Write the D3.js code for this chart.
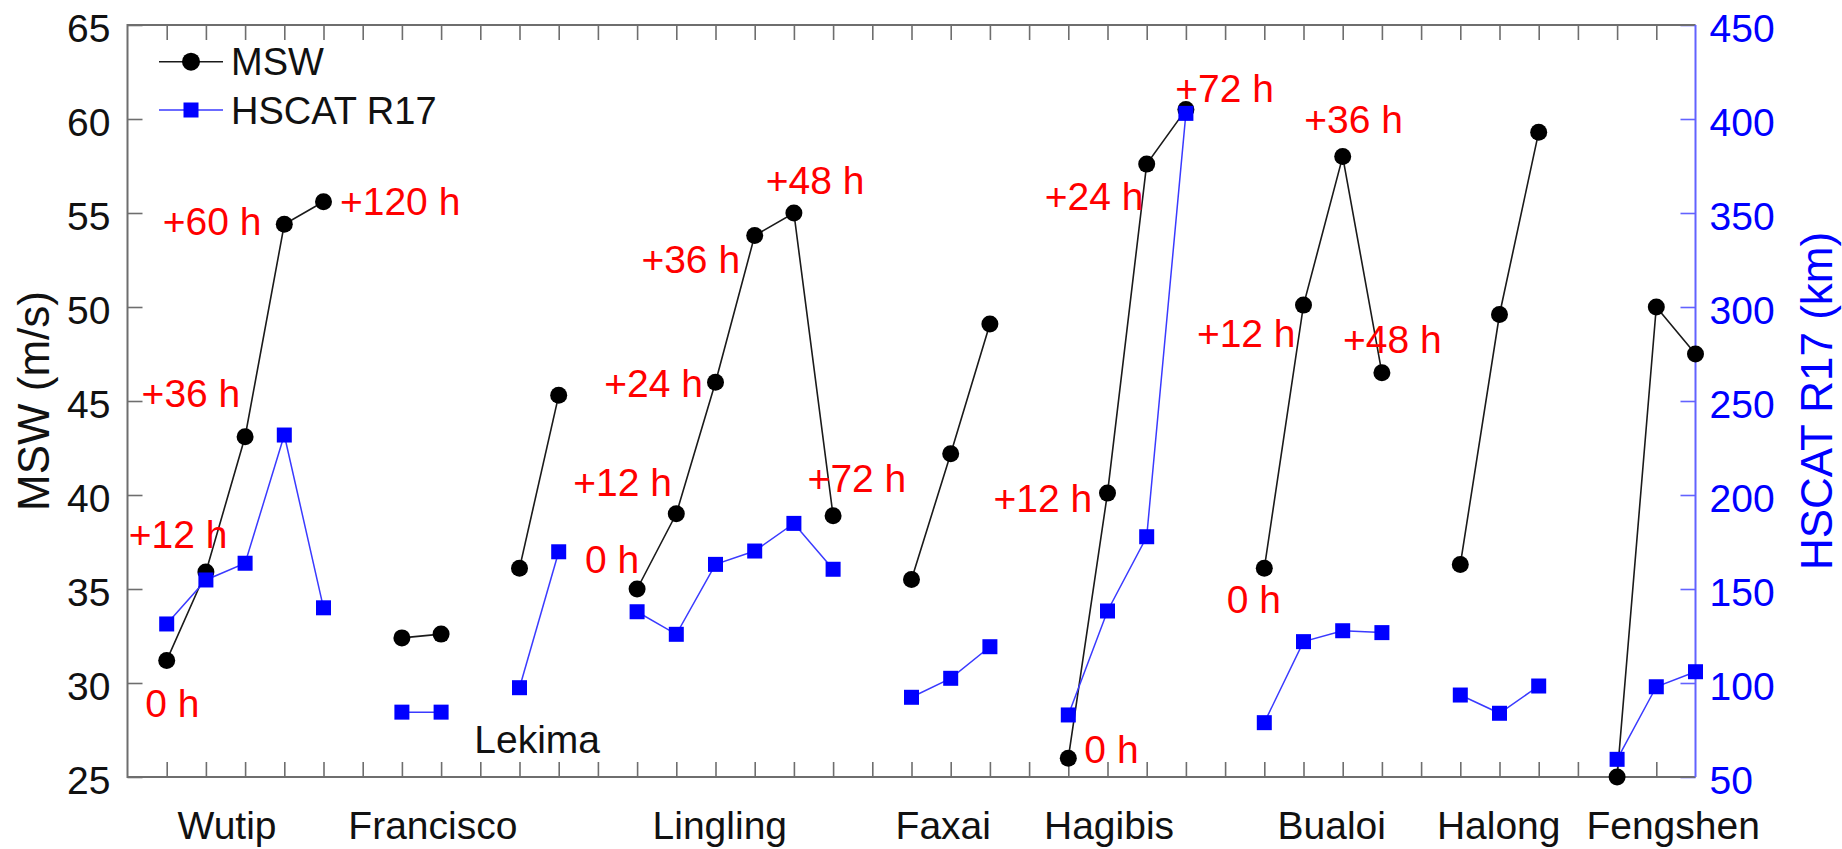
<!DOCTYPE html>
<html>
<head>
<meta charset="utf-8">
<script src="https://cdn.jsdelivr.net/npm/d3@7/dist/d3.min.js"></script>
<style>
  html, body { margin: 0; padding: 0; background: #fff; }
  svg { display: block; font-family: "Liberation Sans", Arial, Helvetica, sans-serif; }
</style>
</head>
<body>
<svg id="chart" width="1842" height="849"></svg>
<script>
// Typhoon names and the x slot of each storm's first (0 h) sample
const storms     = ["Wutip", "Francisco", "Lekima", "Lingling", "Faxai", "Hagibis", "Bualoi", "Halong", "Fengshen"];
const stormStart = [1, 7, 10, 13, 20, 24, 29, 34, 38];

// Maximum sustained wind (m/s), one list per storm, 12-hourly samples
const msw = [
  [31.2, 35.9, 43.1, 54.4, 55.6],
  [32.4, 32.6],
  [36.1, 45.3],
  [35.0, 39.0, 46.0, 53.8, 55.0, 38.9],
  [35.5, 42.2, 49.1],
  [26.0, 40.1, 57.6, 60.5],
  [36.1, 50.1, 58.0, 46.5],
  [36.3, 49.6, 59.3],
  [25.0, 50.0, 47.5]
];

// HSCAT radius of 17 m/s wind (km), same samples
const r17 = [
  [131.4, 154.8, 163.7, 231.9, 140.0],
  [84.5, 84.5],
  [97.5, 169.8],
  [137.9, 125.9, 163.1, 170.2, 184.9, 160.5],
  [92.4, 102.5, 119.3],
  [83.0, 138.3, 177.8, 403.0],
  [78.9, 122.0, 127.8, 126.8],
  [93.6, 83.9, 98.4],
  [59.4, 98.0, 106.0]
];

// Tick labels
const mswTicks = [25, 30, 35, 40, 45, 50, 55, 60, 65];
const r17Ticks = [50, 100, 150, 200, 250, 300, 350, 400, 450];

// Where each storm name sits along the x axis (slot units)
const nameSlot = [2.54, 7.79, 10.45, 15.11, 20.81, 25.04, 30.72, 34.98, 39.43];

// Forecast-lead annotations: text, x slot, MSW value at the text baseline
const notes = [
  ["0 h", 0.45, 28.21], ["+12 h", 0.03, 37.20], ["+36 h", 0.36, 44.66],
  ["+60 h", 0.90, 53.83], ["+120 h", 5.42, 54.89],
  ["0 h", 11.67, 35.84], ["+12 h", 11.37, 39.95], ["+24 h", 12.16, 45.23],
  ["+36 h", 13.11, 51.79], ["+48 h", 16.28, 56.01], ["+72 h", 17.35, 40.18],
  ["0 h", 24.41, 25.76], ["+12 h", 22.09, 39.11], ["+24 h", 23.40, 55.16],
  ["+72 h", 26.73, 60.92],
  ["0 h", 28.04, 33.74], ["+12 h", 27.28, 47.89], ["+36 h", 30.02, 59.27],
  ["+48 h", 31.01, 47.57]
];

const svg = d3.select("#chart");
const L = 127.5, R = 1695.5, T = 25, B = 777;

const x  = d3.scaleLinear().domain([0, 40]).range([L, R]);
const yL = d3.scaleLinear().domain([25, 65]).range([B, T]);
const yR = d3.scaleLinear().domain([50, 450]).range([B, T]);

const grey = "#6e6e6e", blueAxis = "#6262ff";

// x ticks, bottom and top, pointing into the plot
const slots = d3.range(1, 40);
const gxB = svg.append("g").attr("transform", `translate(0,${B})`)
  .call(d3.axisBottom(x).tickValues(slots).tickSize(-15).tickFormat(""));
const gxT = svg.append("g").attr("transform", `translate(0,${T})`)
  .call(d3.axisTop(x).tickValues(slots).tickSize(-15).tickFormat(""));
[gxB, gxT].forEach(g => {
  g.select(".domain").remove();
  g.selectAll(".tick line").attr("stroke", grey).attr("stroke-width", 1.6);
});

// left axis (MSW)
const gyL = svg.append("g").attr("transform", `translate(${L},0)`)
  .call(d3.axisLeft(yL).tickValues(mswTicks).tickSize(-15).tickPadding(17));
gyL.select(".domain").remove();
gyL.selectAll(".tick line").attr("stroke", grey).attr("stroke-width", 1.6);
gyL.selectAll(".tick text").attr("font-size", 39).attr("fill", "#111")
  .attr("font-family", "Liberation Sans, Arial, sans-serif").attr("dy", "0.42em");

// right axis (HSCAT R17)
const gyR = svg.append("g").attr("transform", `translate(${R},0)`)
  .call(d3.axisRight(yR).tickValues(r17Ticks).tickSize(-15).tickPadding(14));
gyR.select(".domain").remove();
gyR.selectAll(".tick line").attr("stroke", blueAxis).attr("stroke-width", 1.6);
gyR.selectAll(".tick text").attr("font-size", 39).attr("fill", "#0000ff")
  .attr("font-family", "Liberation Sans, Arial, sans-serif").attr("dy", "0.42em");

// frame
svg.append("path")
  .attr("d", `M${R},${T}H${L}V${B}H${R}`)
  .attr("fill", "none").attr("stroke", grey).attr("stroke-width", 2);
svg.append("line")
  .attr("x1", R).attr("x2", R).attr("y1", T).attr("y2", B)
  .attr("stroke", blueAxis).attr("stroke-width", 2);

// axis titles
svg.append("text")
  .attr("transform", `translate(49,${(T + B) / 2}) rotate(-90)`)
  .attr("text-anchor", "middle").attr("font-size", 44).attr("fill", "#111")
  .text("MSW (m/s)");
svg.append("text")
  .attr("transform", `translate(1832,${(T + B) / 2}) rotate(-90)`)
  .attr("text-anchor", "middle").attr("font-size", 44).attr("fill", "#0000ff")
  .text("HSCAT R17 (km)");

// storm names below the axis (Lekima sits inside the plot)
storms.forEach((name, i) => {
  const inside = name === "Lekima";
  svg.append("text")
    .attr("x", x(nameSlot[i]))
    .attr("y", inside ? yL(26.28) : 839)
    .attr("text-anchor", "middle").attr("font-size", 39).attr("fill", "#111")
    .text(name);
});

// build per-storm point lists
const mswPts = msw.map((vals, i) => vals.map((v, k) => [stormStart[i] + k, v]));
const r17Pts = r17.map((vals, i) => vals.map((v, k) => [stormStart[i] + k, v]));

const lineL = d3.line().x(d => x(d[0])).y(d => yL(d[1]));
const lineR = d3.line().x(d => x(d[0])).y(d => yR(d[1]));

// MSW: black lines with filled circles
const gM = svg.append("g");
gM.selectAll("path").data(mswPts).join("path")
  .attr("d", lineL).attr("fill", "none").attr("stroke", "#1a1a1a").attr("stroke-width", 1.6);
gM.selectAll("circle").data(mswPts.flat()).join("circle")
  .attr("cx", d => x(d[0])).attr("cy", d => yL(d[1])).attr("r", 8.5).attr("fill", "#000");

// R17: blue lines with filled squares
const gR = svg.append("g");
const sq = 15;
gR.selectAll("path").data(r17Pts).join("path")
  .attr("d", lineR).attr("fill", "none").attr("stroke", "#3a3aff").attr("stroke-width", 1.5);
gR.selectAll("rect").data(r17Pts.flat()).join("rect")
  .attr("x", d => x(d[0]) - sq / 2).attr("y", d => yR(d[1]) - sq / 2)
  .attr("width", sq).attr("height", sq).attr("fill", "#0000ff");

// forecast-lead annotations
svg.append("g").selectAll("text").data(notes).join("text")
  .attr("x", d => x(d[1])).attr("y", d => yL(d[2]))
  .attr("font-size", 39).attr("fill", "#ff0000")
  .text(d => d[0]);

// legend
const leg = svg.append("g");
const legItems = [
  { label: "MSW", y: 61.7, color: "#1a1a1a", mark: "circle" },
  { label: "HSCAT R17", y: 110, color: "#3a3aff", mark: "square" }
];
legItems.forEach(it => {
  leg.append("line").attr("x1", 159).attr("x2", 223).attr("y1", it.y).attr("y2", it.y)
    .attr("stroke", it.color).attr("stroke-width", 1.6);
  if (it.mark === "circle") {
    leg.append("circle").attr("cx", 191).attr("cy", it.y).attr("r", 9).attr("fill", "#000");
  } else {
    leg.append("rect").attr("x", 191 - 7.5).attr("y", it.y - 7.5)
      .attr("width", 15).attr("height", 15).attr("fill", "#0000ff");
  }
  leg.append("text").attr("x", 231).attr("y", it.y).attr("dy", "0.36em")
    .attr("font-size", 38).attr("fill", "#111").text(it.label);
});
</script>
</body>
</html>
